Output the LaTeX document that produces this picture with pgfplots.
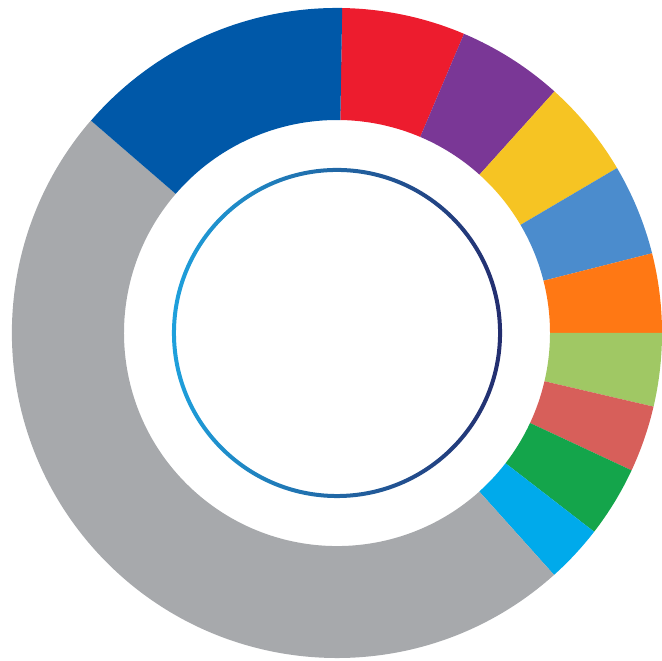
\documentclass[border=0pt]{standalone}
\usepackage{pgfplots}
\usepackage{pgfplotstable}
\pgfplotsset{compat=1.18}
\definecolor{cDarkBlue}{RGB}{0,88,168}
\definecolor{cRed}{RGB}{237,28,46}
\definecolor{cPurple}{RGB}{122,55,150}
\definecolor{cYellow}{RGB}{246,196,35}
\definecolor{cLightBlue}{RGB}{75,140,205}
\definecolor{cOrange}{RGB}{255,120,20}
\definecolor{cLightGreen}{RGB}{160,200,100}
\definecolor{cRedTwo}{RGB}{215,95,90}
\definecolor{cGreen}{RGB}{20,165,75}
\definecolor{cCyan}{RGB}{0,170,235}
\definecolor{cGray}{RGB}{167,169,172}
\definecolor{ringL}{RGB}{30,160,220}
\definecolor{ringR}{RGB}{35,45,110}
\pgfplotstableread{
value color
22.1 cRed
19.0 cPurple
17.5 cYellow
16.3 cLightBlue
14.2 cOrange
13.1 cLightGreen
11.9 cRedTwo
12.7 cGreen
10.4 cCyan
172.7 cGray
50.1 cDarkBlue
}\donut
\begin{document}
\begin{tikzpicture}
\begin{axis}[
  x=0.025cm, y=0.025cm,
  xmin=-337, xmax=325, ymin=-328, ymax=333,
  hide axis, clip=false,
]
\coordinate (bl) at (axis cs:-337,-328);
\coordinate (tr) at (axis cs:325,333);
\def\Ro{325}\def\Ri{213}
\def\RoC{8.125cm}\def\RiC{5.325cm}
\pgfplotstablegetrowsof{\donut}
\pgfmathtruncatemacro\Nrows{\pgfplotsretval-1}
\def\cum{0.9}
\pgfplotsforeachungrouped \i in {0,...,\Nrows}{%
  \pgfplotstablegetelem{\i}{value}\of{\donut}\let\segval\pgfplotsretval
  \pgfplotstablegetelem{\i}{color}\of{\donut}\let\segcol\pgfplotsretval
  \pgfmathsetmacro\angA{90-\cum}%
  \pgfmathsetmacro\angB{90-\cum-\segval}%
  \edef\temp{\noexpand\fill[\segcol] (axis cs:{\Ro*cos(\angA)},{\Ro*sin(\angA)}) arc[start angle=\angA, end angle=\angB, radius=\RoC] -- (axis cs:{\Ri*cos(\angB)},{\Ri*sin(\angB)}) arc[start angle=\angB, end angle=\angA, radius=\RiC] -- cycle;}%
  \temp
  \pgfmathsetmacro\cum{\cum+\segval}%
}
\shade[left color=ringL, right color=ringR, even odd rule]
  (axis cs:0,0) circle[radius=4.125cm] (axis cs:0,0) circle[radius=4.025cm];
\end{axis}
\pgfresetboundingbox
\path (bl) rectangle (tr);
\end{tikzpicture}
\end{document}
